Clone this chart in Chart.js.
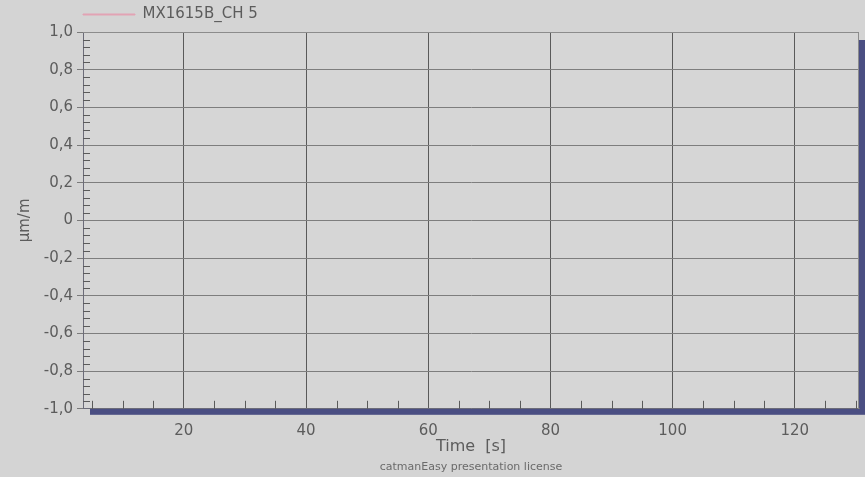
<!DOCTYPE html>
<html>
<head>
<meta charset="utf-8">
<title>MX1615B_CH 5</title>
<script src="https://cdn.jsdelivr.net/npm/chart.js@4.4.1/dist/chart.umd.min.js"></script>
<style>
  html, body { margin: 0; padding: 0; background: #d4d4d4; }
  #wrap { width: 865px; height: 477px; }
  canvas { display: block; }
</style>
</head>
<body>
<div id="wrap"><canvas id="chart" width="865" height="477"></canvas></div>
<script>
// Channel and its recorded samples (time in s, strain in µm/m).
// No sample of this recording falls inside the displayed window.
const channelName = 'MX1615B_CH 5';
const sampleTimes = [];
const sampleStrain = [];

// Axis windows and labelled ticks
const timeRange = [3.5, 130.5];
const strainRange = [-1.0, 1.0];
const timeMajorTicks = [20, 40, 60, 80, 100, 120];
const strainTicks = [1.0, 0.8, 0.6, 0.4, 0.2, 0, -0.2, -0.4, -0.6, -0.8, -1.0];
const timeMinorStep = 5;
const strainMinorStep = 0.04;

const FONT = 'DejaVu Sans';
const TEXT = '#5c5c5c';

Chart.defaults.font.family = FONT;

function fmtStrain(v) {
  if (Math.abs(v) < 1e-9) return '0';
  return v.toFixed(1).replace('.', ',');
}

// Plot frame with its drop shadow, plus the small inside tick marks.
const framePlugin = {
  id: 'frame',
  afterLayout(chart) {
    // start the legend entry at the plot's left edge
    const lg = chart.legend;
    if (lg) {
      const pad = lg.options.labels.padding;
      const shift = chart.chartArea.left - pad - lg.left;
      lg.left += shift;
      lg.right += shift;
    }
  },
  beforeDraw(chart) {
    const { ctx, chartArea: a } = chart;
    ctx.save();
    ctx.fillStyle = '#d4d4d4';
    ctx.fillRect(0, 0, chart.width, chart.height);
    ctx.fillStyle = '#4a4e82';
    ctx.fillRect(a.left + 7, a.top + 8, a.right - a.left + 2, a.bottom - a.top - 2);
    ctx.fillStyle = '#d6d6d6';
    ctx.fillRect(a.left, a.top, a.right - a.left, a.bottom - a.top);
    ctx.restore();
  },
  beforeDatasetsDraw(chart) {
    const { ctx, chartArea: a, scales } = chart;
    const xs = scales.x, ys = scales.y;
    ctx.save();
    ctx.strokeStyle = '#5a5a5a';
    ctx.lineWidth = 1;
    ctx.beginPath();
    for (let t = Math.ceil(timeRange[0] / timeMinorStep) * timeMinorStep; t <= timeRange[1]; t += timeMinorStep) {
      if (timeMajorTicks.includes(t)) continue;
      const x = Math.round(xs.getPixelForValue(t)) + 0.5;
      ctx.moveTo(x, a.bottom);
      ctx.lineTo(x, a.bottom - 8);
    }
    const n = Math.round((strainRange[1] - strainRange[0]) / strainMinorStep);
    for (let i = 1; i < n; i++) {
      if (i % 5 === 0) continue;
      const v = strainRange[0] + i * strainMinorStep;
      const y = Math.round(ys.getPixelForValue(v)) + 0.5;
      ctx.moveTo(a.left, y);
      ctx.lineTo(a.left + 7, y);
    }
    ctx.stroke();
    // top and right edges of the plot frame
    ctx.strokeStyle = '#8c8c8c';
    ctx.beginPath();
    ctx.moveTo(a.left, a.top + 0.5);
    ctx.lineTo(a.right - 0.5, a.top + 0.5);
    ctx.lineTo(a.right - 0.5, a.bottom);
    ctx.stroke();
    ctx.restore();
  }
};

new Chart(document.getElementById('chart'), {
  type: 'line',
  data: {
    datasets: [{
      label: channelName,
      data: sampleTimes.map((t, i) => ({ x: t, y: sampleStrain[i] })),
      borderColor: '#e2a3b4',
      backgroundColor: '#e2a3b4',
      borderWidth: 1,
      pointRadius: 0
    }]
  },
  options: {
    responsive: false,
    devicePixelRatio: 1,
    animation: false,
    layout: { padding: { top: 1, right: 6, left: 0, bottom: 0 } },
    scales: {
      x: {
        type: 'linear',
        min: timeRange[0],
        max: timeRange[1],
        afterBuildTicks: s => { s.ticks = timeMajorTicks.map(v => ({ value: v })); },
        afterFit: s => { s.height = 51; },
        grid: { color: '#5a5a5a', lineWidth: 1, drawTicks: false },
        border: { display: true, color: '#6b6b78', width: 1 },
        ticks: { color: TEXT, font: { size: 15 }, padding: 13, maxRotation: 0, autoSkip: false },
        title: { display: true, text: 'Time  [s]', color: TEXT, font: { size: 16 }, padding: { top: 0, bottom: 3 } }
      },
      y: {
        min: strainRange[0],
        max: strainRange[1],
        afterBuildTicks: s => { s.ticks = strainTicks.map(v => ({ value: v })); },
        afterFit: s => { s.width = 83; },
        grid: { color: '#7e7e7e', tickColor: '#7a7a7a', lineWidth: 1, tickLength: 6 },
        border: { display: true, color: '#6b6b78', width: 1 },
        ticks: { color: TEXT, font: { size: 15 }, padding: 4, callback: v => fmtStrain(v) },
        title: { display: true, text: 'µm/m', color: TEXT, font: { size: 15 }, padding: { top: 16, bottom: 0 } }
      }
    },
    plugins: {
      legend: {
        display: true,
        position: 'top',
        align: 'start',
        labels: { boxWidth: 52, boxHeight: 1, padding: 6, color: TEXT, font: { size: 15 } }
      },
      title: {
        display: true,
        position: 'bottom',
        fullSize: false,
        text: 'catmanEasy presentation license',
        color: '#6a6a6a',
        font: { size: 11, weight: 'normal' },
        padding: { top: 1, bottom: 3 }
      },
      tooltip: { enabled: false }
    }
  },
  plugins: [framePlugin]
});
</script>
</body>
</html>
